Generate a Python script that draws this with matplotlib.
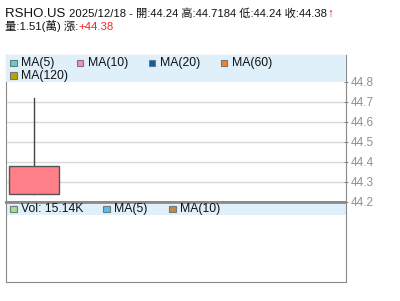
import matplotlib
matplotlib.use('Agg')
import matplotlib.pyplot as plt
from matplotlib.patches import Rectangle

plt.rcParams['font.family'] = ['Liberation Sans', 'Noto Sans CJK TC', 'DejaVu Sans']

# data
symbol = 'RSHO.US'
date = '2025/12/18'
opens = [44.24]
highs = [44.7184]
lows = [44.24]
closes = [44.38]
vol_wan = 1.51
vol_k = 15.14
change = '+44.38'
yticks = [44.2, 44.3, 44.4, 44.5, 44.6, 44.7, 44.8]
ma_labels = ['MA(5)', 'MA(10)', 'MA(20)', 'MA(60)', 'MA(120)']
ma_colors = ['#4dd6d0', '#ff8ab8', '#0062b4', '#ff8020', '#b8a400']
vol_labels = ['Vol: %.2fK' % vol_k, 'MA(5)', 'MA(10)']
vol_colors = ['#a4e08c', '#50c2f0', '#c08c48']

W, H = 400, 301
fig = plt.figure(figsize=(W / 100, H / 100), dpi=100)

def box(l, t, r, b):
    return [l / W, 1 - b / H, (r - l) / W, (b - t) / H]

gray = '#8a8a8a'
ax = fig.add_axes(box(5.5, 54.5, 345.5, 201.7))
vax = fig.add_axes(box(5.5, 201.7, 345.5, 282.3))

# price panel
ax.set_xlim(-0.56, 6.24)
ax.set_ylim(44.2, 44.936)
for y in yticks[1:-1]:
    ax.axhline(y, color='#d8d8d8', lw=1, zorder=0)
for i in range(len(opens)):
    ax.plot([i, i], [lows[i], highs[i]], color='#444444', lw=1, zorder=2)
    ax.add_patch(Rectangle((i - 0.5, min(opens[i], closes[i])), 1,
                           abs(closes[i] - opens[i]), facecolor='#ff8088',
                           edgecolor='#555555', lw=1, zorder=3))
ax.yaxis.tick_right()
ax.set_yticks(yticks)
ax.set_yticklabels(['%.1f' % v for v in yticks])
ax.tick_params(axis='y', colors=gray, labelcolor='#909090', labelsize=8.5,
               length=3, direction='inout', pad=2)
ax.set_xticks([])
for s in ax.spines.values():
    s.set_color(gray)
ax.spines['bottom'].set_linewidth(2)
band_h = (82 - 54.5) / (201.7 - 54.5)
ax.add_patch(Rectangle((0, 1 - band_h), 1, band_h, transform=ax.transAxes,
                       facecolor='#dff0fa', edgecolor='none', zorder=4))

# volume panel
vax.set_xlim(-0.56, 6.24)
vax.set_ylim(0, 1)
vax.set_xticks([])
vax.set_yticks([])
for s in vax.spines.values():
    s.set_color(gray)
vax.spines['top'].set_linewidth(2)
vb = (215.7 - 202) / (282.3 - 201.7)
vax.add_patch(Rectangle((0, 1 - vb), 1, vb, transform=vax.transAxes,
                        facecolor='#dff0fa', edgecolor='none', zorder=1))

def legend_item(x, y, color, label):
    fig.patches.append(Rectangle(((x - 3.2) / W, 1 - (y + 3.2) / H), 6.4 / W, 6.4 / H,
                                 transform=fig.transFigure, facecolor=color,
                                 edgecolor='#777777', lw=0.8, zorder=10))
    fig.text((x + 7.8) / W, 1 - y / H, label, fontsize=8.8, va='center',
             ha='left', color='#111111', zorder=10)

ma_pos = [(13.5, 62.8), (80, 62.8), (152, 62.8), (224, 62.8), (13.5, 75.5)]
for (x, y), c, lab in zip(ma_pos, ma_colors, ma_labels):
    legend_item(x, y, c, lab)
vol_pos = [(13.5, 209), (106.5, 209), (172.5, 209)]
for (x, y), c, lab in zip(vol_pos, vol_colors, vol_labels):
    legend_item(x, y, c, lab)

# header text, drawn piece by piece
renderer = fig.canvas.get_renderer()

def line(pieces, x, y):
    for txt, size, color, weight in pieces:
        t = fig.text(x / W, 1 - y / H, txt, fontsize=size, color=color,
                     va='baseline', ha='left', fontweight=weight)
        x += t.get_window_extent(renderer).width
    return x

line([(symbol + ' ', 9.5, '#111111', 'normal'),
      ('%s - 開:%.2f 高:%.4f 低:%.2f 收:%.2f' % (date, opens[0], highs[0], lows[0], closes[0]),
       8.1, '#111111', 'normal'),
      ('↑', 8.5, '#ee1111', 'bold')], 5.3, 17)
line([('量:%.2f(萬) 漲:' % vol_wan, 8.2, '#111111', 'normal'),
      (change, 8.2, '#ff2222', 'normal')], 5.3, 30.5)

fig.savefig('out.png', dpi=100)
